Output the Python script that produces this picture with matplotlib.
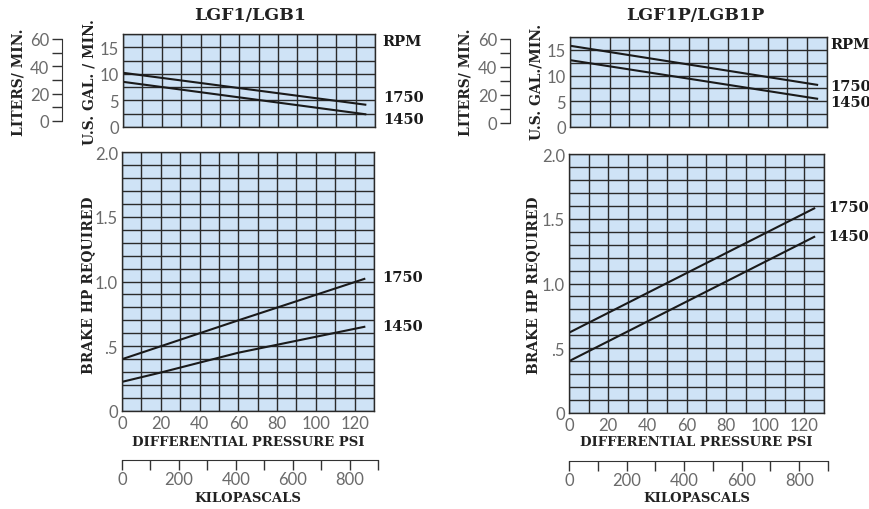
import matplotlib.pyplot as plt
import numpy as np

# flow curves (U.S. gal/min) read at psi endpoints
psi_ends = [0, 125]
gpm_left_1750 = [10.2, 4.2]
gpm_left_1450 = [8.5, 2.4]
gpm_right_1750 = [15.8, 8.2]
gpm_right_1450 = [13.0, 5.5]

# brake hp curves
psi_left = [0, 20, 60, 125]
bhp_left_1750 = [0.40, 0.50, 0.70, 1.02]
bhp_left_1450 = [0.225, 0.297, 0.45, 0.65]
psi_right = [0, 125]
bhp_right_1750 = [0.62, 1.58]
bhp_right_1450 = [0.40, 1.36]

titles = ['LGF1/LGB1', 'LGF1P/LGB1P']
rpm_labels = ['1750', '1450']

W, H = 870, 510
BG = '#cfe3f6'
GRID = '#2a2a2a'
TICKC = '#6a6a6a'
SERIF = 'DejaVu Serif'
SANS = 'Lato'

fig = plt.figure(figsize=(8.7, 5.1), dpi=100)
fig.patch.set_facecolor('white')


def box(x0, y0, x1, y1):
    return [x0 / W, 1 - y1 / H, (x1 - x0) / W, (y1 - y0) / H]


def sans(labels):
    for lab in labels:
        lab.set_family(SANS)


def style(ax):
    ax.set_facecolor(BG)
    for s in ax.spines.values():
        s.set_color(GRID)
        s.set_linewidth(1.0)
    ax.grid(which='both', color=GRID, linewidth=1.0)
    ax.set_axisbelow(True)
    ax.tick_params(which='both', length=0, colors=TICKC, labelsize=12, pad=3)
    sans(ax.get_xticklabels() + ax.get_yticklabels())


def label(x, y, txt, rot=0, size=10):
    fig.text(x / W, 1 - y / H, txt, rotation=rot, ha='center', va='center',
             fontsize=size, fontweight='bold', family=SERIF, color='#222222')


panels = [
    dict(top=(123, 35, 375, 128), bot=(122, 153, 374, 412), kpa=(122, 461, 378),
         lit=(62, 40, 122), title_x=250, gal_x=90, lit_x=19, bhp_x=88,
         gpm=(gpm_left_1750, gpm_left_1450), bhp=(bhp_left_1750, bhp_left_1450),
         psi=psi_left, toplab=(134, [16.2, 5.6, 1.5]), botlab=(134.5, [1.035, 0.66]),
         gal_title='U.S. GAL. / MIN.'),
    dict(top=(570, 38, 827, 128), bot=(569, 155, 824, 414), kpa=(569, 462, 828),
         lit=(510, 40, 124), title_x=695, gal_x=537, lit_x=466, bhp_x=533,
         gpm=(gpm_right_1750, gpm_right_1450), bhp=(bhp_right_1750, bhp_right_1450),
         psi=psi_right, toplab=(131.5, [16.1, 8.0, 4.9]), botlab=(132, [1.59, 1.37]),
         gal_title='U.S. GAL./MIN.'),
]

for i, p in enumerate(panels):
    # flow chart
    ax = fig.add_axes(box(*p['top']))
    for g in p['gpm']:
        ax.plot(psi_ends, g, color='#1a1a1a', linewidth=1.5)
    ax.set_xlim(0, 130)
    ax.set_ylim(0, 17.5)
    ax.set_xticks(np.arange(0, 131, 10))
    ax.set_xticklabels([])
    ax.set_yticks([0, 5, 10, 15])
    ax.set_yticks(np.arange(0, 17.6, 2.5), minor=True)
    style(ax)
    lx, ly = p['toplab']
    for txt, yy in zip(['RPM'] + rpm_labels, ly):
        ax.text(lx, yy, txt, fontsize=10.5, fontweight='bold', family=SERIF,
                va='center', ha='left', clip_on=False, color='#1a1a1a')

    # brake hp chart
    ax2 = fig.add_axes(box(*p['bot']))
    for b in p['bhp']:
        ax2.plot(p['psi'], b, color='#1a1a1a', linewidth=1.5)
    ax2.set_xlim(0, 130)
    ax2.set_ylim(0, 2.0)
    ax2.set_xticks(np.arange(0, 121, 20))
    ax2.set_xticks(np.arange(0, 131, 10), minor=True)
    ax2.set_yticks([0, 0.5, 1.0, 1.5, 2.0])
    ax2.set_yticklabels(['0', '.5', '1.0', '1.5', '2.0'])
    ax2.set_yticks(np.arange(0, 2.01, 0.1), minor=True)
    style(ax2)
    bx, by = p['botlab']
    for txt, yy in zip(rpm_labels, by):
        ax2.text(bx, yy, txt, fontsize=10.5, fontweight='bold', family=SERIF,
                 va='center', ha='left', clip_on=False, color='#1a1a1a')

    # kilopascal scale
    kx0, ky, kx1 = p['kpa']
    axk = fig.add_axes(box(kx0, ky - 1, kx1, ky))
    axk.set_xlim(0, 900)
    axk.set_yticks([])
    for s in ['left', 'right', 'top']:
        axk.spines[s].set_visible(False)
    axk.spines['bottom'].set_color('#333333')
    axk.set_xticks(np.arange(0, 901, 100))
    axk.set_xticklabels(['0', '', '200', '', '400', '', '600', '', '800', ''])
    axk.tick_params(axis='x', length=7, width=1, colors='#333333', labelcolor=TICKC,
                    labelsize=12, pad=1)
    sans(axk.get_xticklabels())
    axk.patch.set_alpha(0)

    # liters scale
    lxp, ly0, ly1 = p['lit']
    axl = fig.add_axes(box(lxp, ly0, lxp + 1, ly1))
    axl.set_ylim(0, 60)
    axl.set_xticks([])
    for s in ['right', 'top', 'bottom']:
        axl.spines[s].set_visible(False)
    axl.spines['left'].set_color('#333333')
    axl.set_yticks([0, 20, 40, 60])
    axl.set_yticks([10, 30, 50], minor=True)
    axl.tick_params(which='both', axis='y', length=7, width=1, colors='#333333',
                    labelcolor=TICKC, labelsize=12, pad=2)
    sans(axl.get_yticklabels())
    axl.patch.set_alpha(0)

    # titles and axis labels
    label(p['title_x'], 16, titles[i], size=12.5)
    label(p['lit_x'], 82, 'LITERS/ MIN.', rot=90)
    label(p['gal_x'], 82, p['gal_title'], rot=90)
    label(p['bhp_x'], 285, 'BRAKE HP REQUIRED', rot=90)
    cx = (p['bot'][0] + p['bot'][2]) / 2
    label(cx, 443, 'DIFFERENTIAL PRESSURE PSI', size=9.5)
    label(cx, 499, 'KILOPASCALS', size=9.5)

fig.savefig('out.png', dpi=100)
